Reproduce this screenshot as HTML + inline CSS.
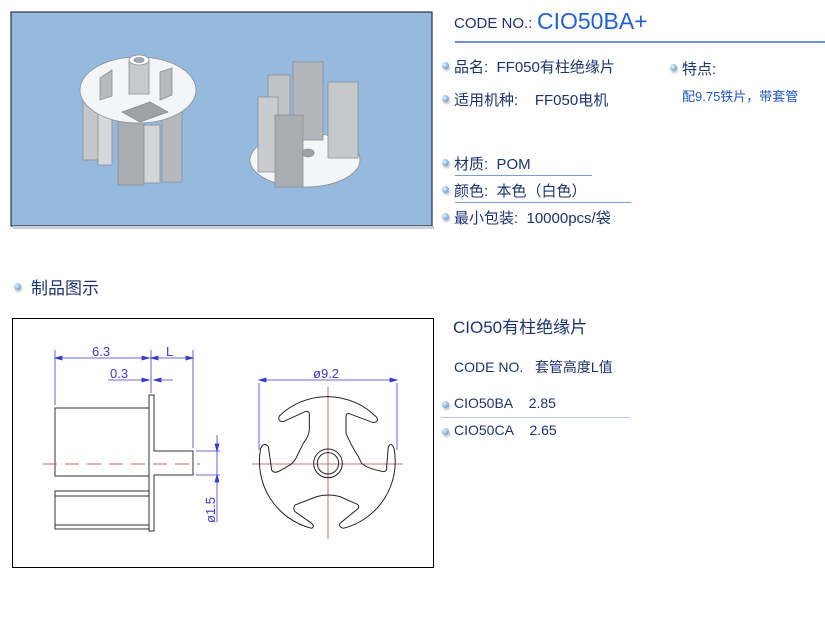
<!DOCTYPE html>
<html><head><meta charset="utf-8"><style>
body{margin:0;width:825px;height:617px;background:#fff;position:relative;overflow:hidden;font-family:"Liberation Sans","Noto Sans CJK SC",sans-serif;color:#1d3270}
.t{position:absolute;white-space:nowrap}
.b{position:absolute;width:7px;height:7px;border-radius:50%;background:radial-gradient(circle at 35% 35%,#e8f4ff,#7fb0dc 60%,#5a86b0);box-shadow:1px 2px 2px rgba(0,0,0,.25)}
.ln{position:absolute;height:1px;background:#7e9bd8}
</style></head><body>
<svg style="position:absolute;left:0;top:0" width="825" height="617">
<rect x="11" y="12" width="421" height="214" fill="#95bade" stroke="#2a3340" stroke-width="1.2"/>
<rect x="13" y="226" width="421" height="3" fill="#c9d0d8"/>
<!-- left 3D part -->
<g stroke="#8a8f96" stroke-width="0.8">
<rect x="83" y="95" width="22" height="65" fill="#c3c6ca"/>
<rect x="98" y="105" width="14" height="60" fill="#d6d8da"/>
<rect x="162" y="110" width="20" height="72" fill="#b5b8bc"/>
<rect x="118" y="118" width="26" height="67" fill="#a9adb2"/>
<rect x="144" y="125" width="16" height="58" fill="#d3d5d8"/>
<ellipse cx="138" cy="90" rx="58" ry="33" fill="#f4f5f6"/>
<path d="M100 78 L112 70 L112 96 L100 100Z" fill="#b7babf"/>
<path d="M160 72 L172 68 L172 95 L160 100Z" fill="#b7babf"/>
<path d="M122 112 L150 102 L168 112 L140 122Z" fill="#9ea2a7"/>
<rect x="129" y="60" width="20" height="34" fill="#c7c9cc"/>
<ellipse cx="139" cy="60" rx="10" ry="5" fill="#fff"/>
<ellipse cx="139" cy="60" rx="5" ry="2.5" fill="#a6a9ad"/>
</g>
<!-- right 3D part -->
<g stroke="#8a8f96" stroke-width="0.8">
<ellipse cx="305" cy="160" rx="55" ry="27" fill="#f4f5f6"/>
<rect x="268" y="75" width="22" height="75" fill="#bfc2c6"/>
<rect x="293" y="62" width="30" height="78" fill="#b3b6ba"/>
<rect x="328" y="82" width="30" height="76" fill="#c6c9cc"/>
<rect x="258" y="97" width="20" height="75" fill="#c9cbce"/>
<rect x="275" y="115" width="28" height="72" fill="#a9adb2"/>
<ellipse cx="308" cy="153" rx="6" ry="4" fill="#9ea2a7"/>
</g>
<!-- drawing box -->
<rect x="12.5" y="318.5" width="421" height="249" fill="#fff" stroke="#000" stroke-width="1"/>
<g fill="none" stroke="#333" stroke-width="1">
<rect x="55" y="408" width="94" height="68"/>
<path d="M149 408 V395 H154 V451 H193 V475 H154 V531 H149 V476"/>
<rect x="55" y="491" width="94" height="38"/>
<line x1="55" y1="496" x2="149" y2="496"/>
<line x1="55" y1="525" x2="149" y2="525"/>
</g>
<line x1="43" y1="464" x2="200" y2="464" stroke="#c56060" stroke-width="1" stroke-dasharray="14,8"/>
<g stroke="#3a3acc" stroke-width="0.8" fill="#3a3acc">
<line x1="55" y1="350" x2="55" y2="405"/><line x1="151" y1="350" x2="151" y2="393"/><line x1="193" y1="350" x2="193" y2="448"/>
<line x1="55" y1="358" x2="149" y2="358"/><line x1="151" y1="358" x2="193" y2="358"/>
<line x1="108" y1="380" x2="149" y2="380"/><line x1="154" y1="380" x2="173" y2="380"/>
<line x1="196" y1="451" x2="220" y2="451"/><line x1="196" y1="475" x2="220" y2="475"/>
<line x1="217" y1="435" x2="217" y2="522"/>
<line x1="259" y1="383" x2="259" y2="450"/><line x1="397" y1="383" x2="397" y2="450"/>
<line x1="259" y1="380" x2="397" y2="380"/>
<path d="M55 358l7-2v4z M149 358l-7-2v4z M151 358l7-2v4z M193 358l-7-2v4z M149 380l-7-2v4z M154 380l7-2v4z M217 451l-2-7h4z M217 475l-2 7h4z M259 380l7-2v4z M397 380l-7-2v4z"/>
</g>
<g fill="#3a3acc" font-family="Liberation Sans,sans-serif" font-size="13">
<text x="92" y="356">6.3</text><text x="166" y="356">L</text><text x="110" y="378">0.3</text>
<text x="313" y="378">ø9.2</text>
<text transform="translate(215,523) rotate(-90)">ø1.5</text>
</g>
<line x1="252" y1="464" x2="403" y2="464" stroke="#b04848" stroke-width="0.8"/>
<line x1="328" y1="387" x2="328" y2="539" stroke="#b04848" stroke-width="0.8"/>
<g transform="translate(240,380) scale(0.3333)" fill="none" stroke="#222" stroke-width="3">
<path d="M118,108 A207,207 0 0 1 410,112 Q418,125 400,128 L325,100 Q318,100 318,110 L318,160 Q330,190 355,230 L365,250 Q380,265 430,275 Q442,275 440,260 L445,200 Q455,185 462,205 A207,207 0 0 1 310,445 Q295,440 300,430 L355,385 Q360,375 345,370 L300,350 Q265,340 230,350 L165,375 Q158,385 165,395 L215,430 Q225,440 215,445 A207,207 0 0 1 62,205 Q72,185 85,200 L95,270 Q100,280 115,275 L150,255 Q165,245 175,220 L190,190 Q210,165 208,140 L208,100 Q205,92 195,95 L130,125 Q112,125 118,108 Z"/>
<circle cx="264" cy="250" r="43"/><circle cx="264" cy="250" r="32"/>
</g>
</svg>

<div class="t" style="left:454px;top:15px;font-size:15px">CODE NO.:</div>
<div class="t" style="left:537px;top:8px;font-size:23px;color:#2160d8">CIO50BA+</div>
<div class="ln" style="left:455px;top:41px;width:370px;height:2px;background:#6f8ede"></div>

<div class="b" style="left:442px;top:62px"></div>
<div class="t" style="left:454px;top:56px;font-size:15px">品名:&nbsp; FF050有柱绝缘片</div>
<div class="b" style="left:442px;top:95px"></div>
<div class="t" style="left:454px;top:89px;font-size:15px">适用机种:&nbsp;&nbsp;&nbsp; FF050电机</div>
<div class="b" style="left:670px;top:64px"></div>
<div class="t" style="left:682px;top:58px;font-size:15px">特点:</div>
<div class="t" style="left:682px;top:86px;font-size:13px;color:#2257c8">配9.75铁片，带套管</div>

<div class="b" style="left:442px;top:159px"></div>
<div class="t" style="left:454px;top:153px;font-size:15px">材质:&nbsp; POM</div>
<div class="ln" style="left:455px;top:175px;width:137px"></div>
<div class="b" style="left:442px;top:186px"></div>
<div class="t" style="left:454px;top:180px;font-size:15px">颜色:&nbsp; 本色（白色）</div>
<div class="ln" style="left:455px;top:202px;width:176px"></div>
<div class="b" style="left:442px;top:213px"></div>
<div class="t" style="left:454px;top:207px;font-size:15px">最小包装:&nbsp; 10000pcs/袋</div>

<div class="b" style="left:14px;top:283px"></div>
<div class="t" style="left:31px;top:274px;font-size:17px">制品图示</div>

<div class="t" style="left:453px;top:313px;font-size:17px">CIO50有柱绝缘片</div>
<div class="t" style="left:454px;top:357px;font-size:14px">CODE NO.&nbsp;&nbsp; 套管高度L值</div>
<div class="b" style="left:442px;top:401px"></div>
<div class="t" style="left:454px;top:395px;font-size:14px">CIO50BA&nbsp;&nbsp;&nbsp; 2.85</div>
<div class="ln" style="left:441px;top:417px;width:189px;background:#b8c8e4"></div>
<div class="b" style="left:442px;top:428px"></div>
<div class="t" style="left:454px;top:422px;font-size:14px">CIO50CA&nbsp;&nbsp;&nbsp; 2.65</div>
</body></html>
